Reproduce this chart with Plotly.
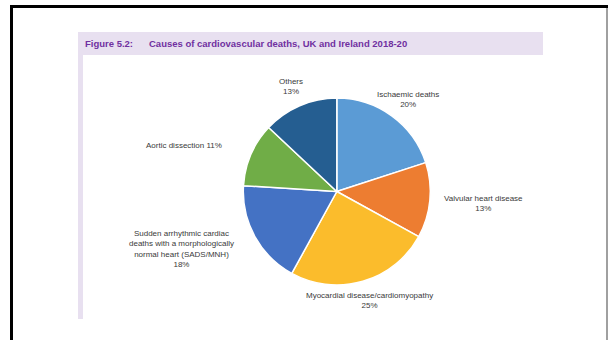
import plotly.graph_objects as go

W, H = 608, 340

# Data
categories = ["Ischaemic deaths", "Valvular heart disease", "Myocardial disease/cardiomyopathy",
              "Sudden arrhythmic cardiac deaths with a morphologically normal heart (SADS/MNH)",
              "Aortic dissection", "Others"]
values = [20, 13, 25, 18, 11, 13]
label_text = ["Ischaemic deaths", "Valvular heart disease", "Myocardial disease/cardiomyopathy",
              "Sudden arrhythmic cardiac<br>deaths with a morphologically<br>normal heart (SADS/MNH)",
              "Aortic dissection", "Others"]
colors = ["#5B9BD5", "#ED7D31", "#FBBC2C", "#4472C4", "#70AD47", "#255E91"]
title_prefix = "Figure 5.2:"
title_text = "Causes of cardiovascular deaths, UK and Ireland 2018-20"

# label placement (pixels) and joiner between name and percentage
label_pos = [(408, 99.5), (483, 203), (369, 300), (181, 249), (184, 145), (291, 86)]
label_sep = ["<br>", "<br>", "<br>", "<br>", " ", "<br>"]


def px(x):
    return x / W


def py(y):
    return 1 - y / H


cx, cy, r = 336.8, 191.5, 93.5

fig = go.Figure(go.Pie(
    labels=categories, values=values, sort=False, direction="clockwise", rotation=0,
    marker=dict(colors=colors, line=dict(color="white", width=1.5)),
    textinfo="none", hoverinfo="label+percent", showlegend=False,
    domain=dict(x=[px(cx - r), px(cx + r)], y=[py(cy + r), py(cy - r)]),
))

total = sum(values)
annotations = []
for name, v, (lx, ly), sep in zip(label_text, values, label_pos, label_sep):
    annotations.append(dict(
        x=px(lx), y=py(ly), xref="paper", yref="paper", showarrow=False,
        text=f"{name}{sep}{round(100 * v / total)}%", align="center",
        xanchor="center", yanchor="middle",
        font=dict(family="Liberation Sans, Arial", size=8, color="#3A3A3A"),
    ))

annotations.append(dict(x=px(82.5), y=py(43.5), xref="paper", yref="paper", showarrow=False,
                        text=f"<b>{title_prefix}</b>", xanchor="left", yanchor="middle",
                        font=dict(family="Liberation Sans, Arial", size=9.5, color="#7030A0")))
annotations.append(dict(x=px(146.5), y=py(43.5), xref="paper", yref="paper", showarrow=False,
                        text=f"<b>{title_text}</b>", xanchor="left", yanchor="middle",
                        font=dict(family="Liberation Sans, Arial", size=9.5, color="#7030A0")))


def rect(x0, y0, x1, y1, color):
    return dict(type="rect", xref="paper", yref="paper", x0=px(x0), x1=px(x1),
                y0=py(y1), y1=py(y0), fillcolor=color, line=dict(width=0), layer="below")


lav = "#E8E0F0"
shapes = [
    rect(10, 5, 608, 8, "#000000"),
    rect(10, 5, 13, 340, "#000000"),
    rect(606, 8, 608, 340, "#A0A0A0"),
    rect(78, 32, 543, 55, lav),
    rect(78, 55, 83, 319, lav),
]

fig.update_layout(
    width=W, height=H, margin=dict(l=0, r=0, t=0, b=0),
    paper_bgcolor="white", plot_bgcolor="white",
    annotations=annotations, shapes=shapes,
)

fig.write_html("out.html", config={"displayModeBar": False})
